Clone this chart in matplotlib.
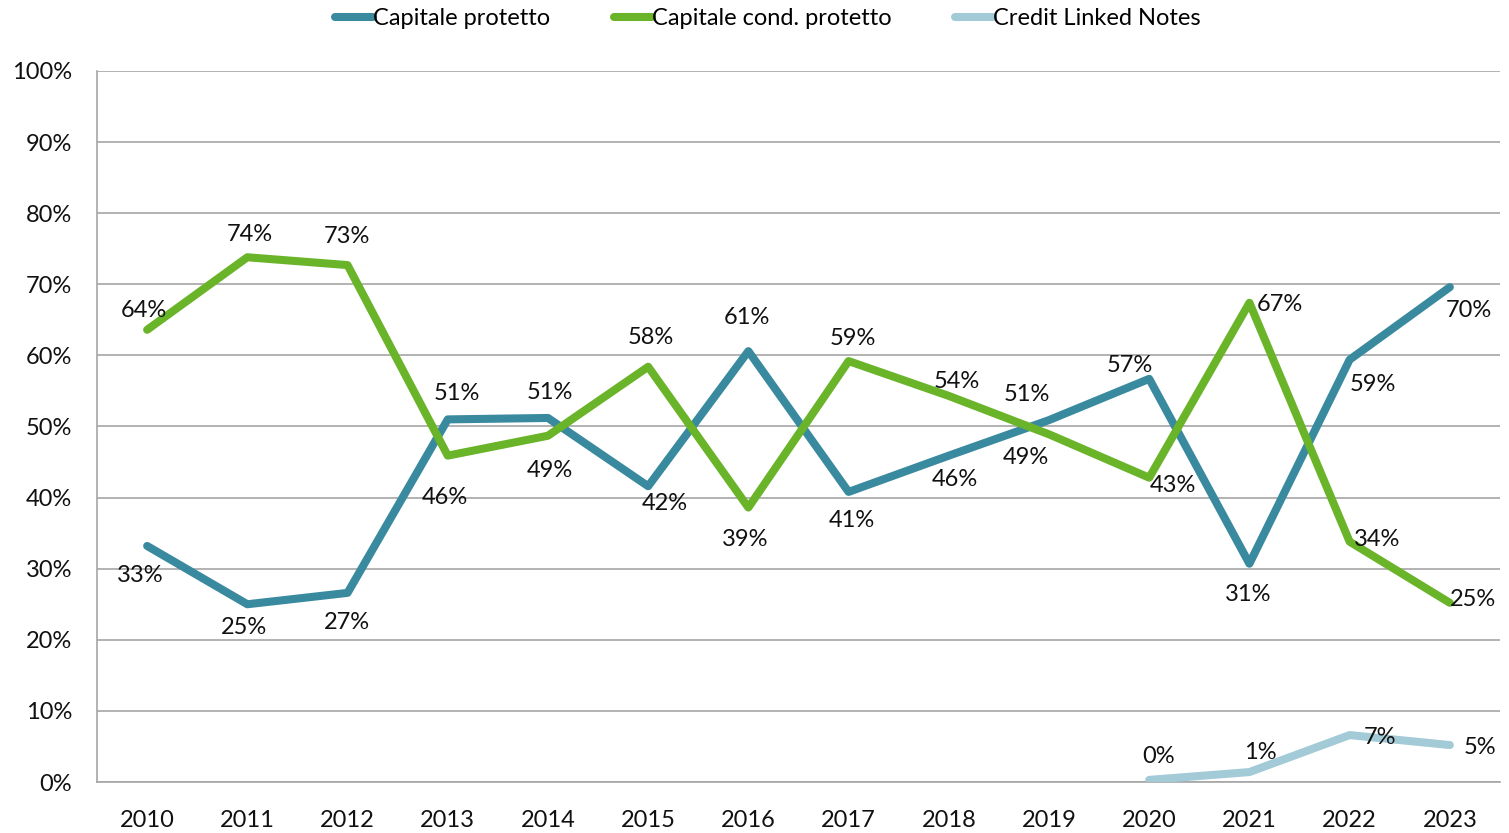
import numpy as np
import matplotlib
matplotlib.use("Agg")
import matplotlib.pyplot as plt

plt.rcParams['font.family'] = ['Lato', 'DejaVu Sans']

years = ['2010', '2011', '2012', '2013', '2014', '2015', '2016',
         '2017', '2018', '2019', '2020', '2021', '2022', '2023']

cap_protetto = [33.2, 25.0, 26.6, 51.0, 51.2, 41.6, 60.6,
                40.8, 45.9, 50.9, 56.7, 30.7, 59.4, 69.6]
cap_cond = [63.6, 73.8, 72.7, 45.9, 48.7, 58.4, 38.6,
            59.2, 54.3, 48.9, 42.8, 67.4, 33.8, 25.2]
cln_years = ['2020', '2021', '2022', '2023']
cln = [0.3, 1.4, 6.6, 5.2]

# label offsets in pixels (dx, dy with y up)
off_blue = [(-7, -30), (-3, -23), (-1, -30), (9, 26), (2, 25), (17, -17), (-1, 34),
            (3, -29), (6, -24), (-22, 26), (-19, 13), (-1, -31), (23, -25), (19, -23)]
off_green = [(-3, 19), (2, 23), (-1, 29), (-3, -42), (2, -35), (3, 29), (-3, -32),
             (4, 23), (8, 14), (-23, -23), (24, -8), (30, -2), (27, 2), (23, 3)]
off_cln = [(9, 23), (11, 20), (30, -2), (30, -2)]

c_blue = '#3A8A9F'
c_green = '#6AB42A'
c_light = '#A3CAD7'
fs = 17

fig = plt.figure(figsize=(15.09, 8.33), dpi=100)
ax = fig.add_axes([0.0643, 0.0612, 0.9297, 0.8536])

x = np.arange(len(years))
xc = np.array([years.index(y) for y in cln_years])

ax.plot(x, cap_protetto, color=c_blue, lw=5.8, solid_capstyle='round',
        solid_joinstyle='round', label='Capitale protetto', zorder=3)
ax.plot(x, cap_cond, color=c_green, lw=5.8, solid_capstyle='round',
        solid_joinstyle='round', label='Capitale cond. protetto', zorder=3)
ax.plot(xc, cln, color=c_light, lw=5.8, solid_capstyle='round',
        solid_joinstyle='round', label='Credit Linked Notes', zorder=3)

def labels(xs, vals, offs):
    for xi, v, (dx, dy) in zip(xs, vals, offs):
        ax.annotate('{:.0f}%'.format(v), (xi, v), xytext=(dx * 0.72, dy * 0.72),
                    textcoords='offset points', ha='center', va='center',
                    fontsize=fs, color='#111111', zorder=4)

labels(x, cap_protetto, off_blue)
labels(x, cap_cond, off_green)
labels(xc, cln, off_cln)

ax.set_xlim(-0.5, len(years) - 0.5)
ax.set_ylim(0, 100)
ax.set_yticks(np.arange(0, 101, 10))
ax.set_yticklabels(['{}%'.format(v) for v in range(0, 101, 10)])
ax.set_xticks(x)
ax.set_xticklabels(years)
ax.tick_params(axis='both', length=0, labelsize=fs, colors='#111111')
ax.tick_params(axis='y', pad=18)
ax.tick_params(axis='x', pad=20)
ax.yaxis.grid(True, color='#A6A6A6', lw=1.2)
ax.set_axisbelow(True)
for s in ['top', 'right']:
    ax.spines[s].set_visible(False)
for s in ['left', 'bottom']:
    ax.spines[s].set_color('#A6A6A6')
    ax.spines[s].set_linewidth(1.2)

fig.legend(loc='upper center', bbox_to_anchor=(0.509, 1.016), ncol=3, frameon=False,
           fontsize=fs, handlelength=1.6, handletextpad=0.0, columnspacing=2.7)

fig.savefig('out.png', dpi=100)
